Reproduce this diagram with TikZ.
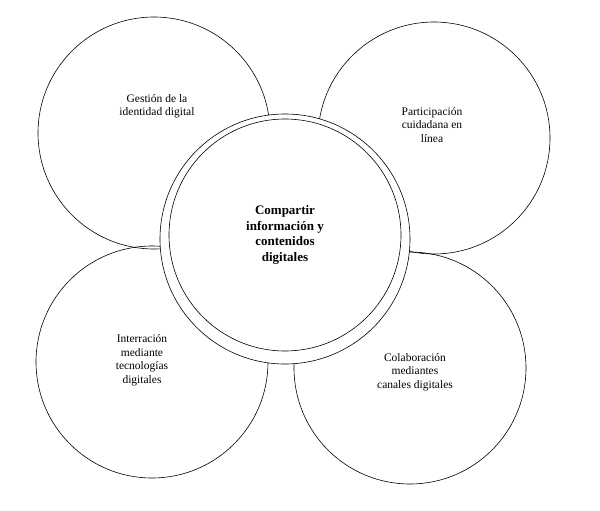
\documentclass[tikz,border=0pt]{standalone}
\usepackage{fontspec}
\setmainfont{Liberation Serif}
\begin{document}
\begin{tikzpicture}[x=1pt,y=-1pt,
  outer/.style={circle,draw,line width=0.6pt,minimum size=232pt,inner sep=0pt,align=center},
  ring/.style={circle,draw,fill=white,line width=0.6pt,minimum size=250pt,inner sep=0pt},
  core/.style={circle,draw,fill=white,line width=0.6pt,minimum size=232pt,inner sep=0pt,align=center,font=\fontsize{13}{15.5}\selectfont\bfseries},
  lbl/.style={align=center,font=\fontsize{11.5}{13.5}\selectfont}]
\useasboundingbox (0,0) rectangle (600,511);
\node[outer] (tl) at (154,133) {};
\node[outer] (tr) at (434,138) {};
\node[outer] (bl) at (152,362) {};
\node[outer] (br) at (410,368) {};
\node[ring] (ring) at (285,239) {};
\node[core] (c) at (285,235) {Compartir\\información y\\contenidos\\digitales};
\node[lbl] (tlt) at (157,106) {Gestión de la\\identidad digital};
\node[lbl] (trt) at (432,125) {Participación\\cuidadana en\\línea};
\node[lbl] (blt) at (142,360) {Interración\\mediante\\tecnologías\\digitales};
\node[lbl] (brt) at (415,372) {Colaboración\\mediantes\\canales digitales};
\end{tikzpicture}
\end{document}
